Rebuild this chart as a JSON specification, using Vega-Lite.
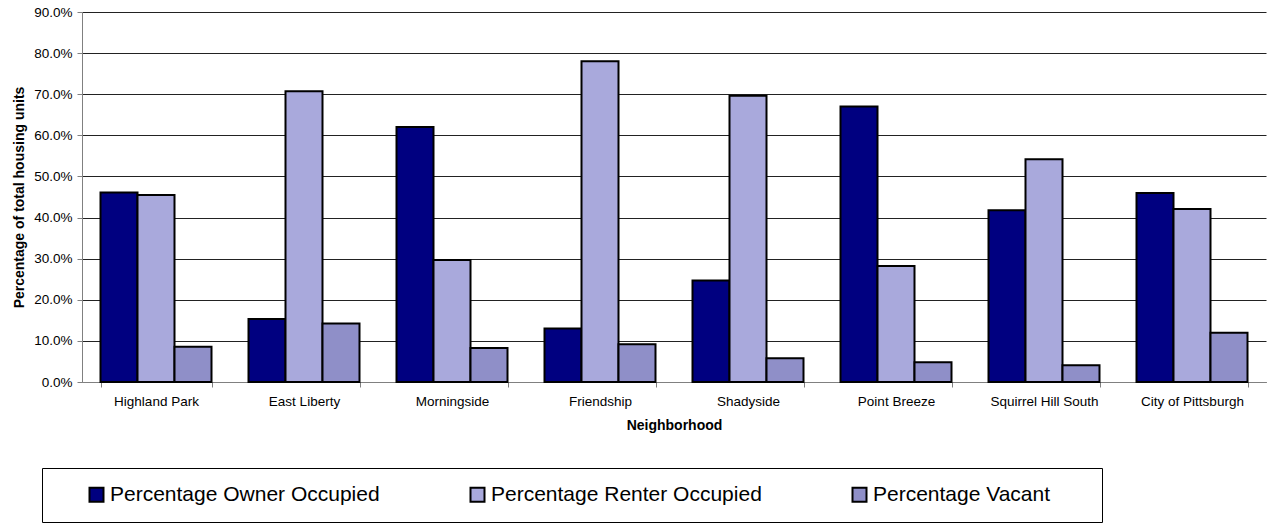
{
  "$schema": "https://vega.github.io/schema/vega-lite/v6.json",
  "width": 1184,
  "height": 370,
  "autosize": {"type": "none"},
  "padding": {"left": 82, "top": 12, "right": 4, "bottom": 143},
  "background": "white",
  "config": {"font": "Liberation Sans", "view": {"stroke": null}},
  "data": {
    "values": [
      {"neighborhood": "Highland Park", "type": "Percentage Owner Occupied", "value": 0.461},
      {"neighborhood": "Highland Park", "type": "Percentage Renter Occupied", "value": 0.455},
      {"neighborhood": "Highland Park", "type": "Percentage Vacant", "value": 0.086},
      {"neighborhood": "East Liberty", "type": "Percentage Owner Occupied", "value": 0.153},
      {"neighborhood": "East Liberty", "type": "Percentage Renter Occupied", "value": 0.707},
      {"neighborhood": "East Liberty", "type": "Percentage Vacant", "value": 0.142},
      {"neighborhood": "Morningside", "type": "Percentage Owner Occupied", "value": 0.620},
      {"neighborhood": "Morningside", "type": "Percentage Renter Occupied", "value": 0.297},
      {"neighborhood": "Morningside", "type": "Percentage Vacant", "value": 0.083},
      {"neighborhood": "Friendship", "type": "Percentage Owner Occupied", "value": 0.130},
      {"neighborhood": "Friendship", "type": "Percentage Renter Occupied", "value": 0.780},
      {"neighborhood": "Friendship", "type": "Percentage Vacant", "value": 0.092},
      {"neighborhood": "Shadyside", "type": "Percentage Owner Occupied", "value": 0.247},
      {"neighborhood": "Shadyside", "type": "Percentage Renter Occupied", "value": 0.696},
      {"neighborhood": "Shadyside", "type": "Percentage Vacant", "value": 0.058},
      {"neighborhood": "Point Breeze", "type": "Percentage Owner Occupied", "value": 0.670},
      {"neighborhood": "Point Breeze", "type": "Percentage Renter Occupied", "value": 0.282},
      {"neighborhood": "Point Breeze", "type": "Percentage Vacant", "value": 0.048},
      {"neighborhood": "Squirrel Hill South", "type": "Percentage Owner Occupied", "value": 0.418},
      {"neighborhood": "Squirrel Hill South", "type": "Percentage Renter Occupied", "value": 0.542},
      {"neighborhood": "Squirrel Hill South", "type": "Percentage Vacant", "value": 0.041},
      {"neighborhood": "City of Pittsburgh", "type": "Percentage Owner Occupied", "value": 0.460},
      {"neighborhood": "City of Pittsburgh", "type": "Percentage Renter Occupied", "value": 0.421},
      {"neighborhood": "City of Pittsburgh", "type": "Percentage Vacant", "value": 0.120}
    ]
  },
  "mark": {"type": "bar", "stroke": "black", "strokeWidth": 2, "strokeJoin": "miter"},
  "encoding": {
    "x": {
      "field": "neighborhood",
      "type": "nominal",
      "sort": null,
      "scale": {"paddingInner": 0.25, "paddingOuter": 0.125},
      "axis": {
        "title": "Neighborhood",
        "labelAngle": 0,
        "labelFontSize": 13.5,
        "labelColor": "black",
        "labelPadding": 7,
        "titleFontSize": 14,
        "titleFontWeight": "bold",
        "titleColor": "black",
        "titlePadding": 11,
        "tickBand": "extent",
        "tickSize": 5,
        "tickColor": "#808080",
        "domainColor": "#808080",
        "grid": false
      }
    },
    "xOffset": {
      "field": "type",
      "type": "nominal",
      "sort": ["Percentage Owner Occupied", "Percentage Renter Occupied", "Percentage Vacant"]
    },
    "y": {
      "field": "value",
      "type": "quantitative",
      "scale": {"domain": [0, 0.9], "nice": false},
      "axis": {
        "title": "Percentage of total housing units",
        "format": ".1%",
        "values": [0, 0.1, 0.2, 0.3, 0.4, 0.5, 0.6, 0.7, 0.8, 0.9],
        "grid": true,
        "gridColor": "#222222",
        "gridWidth": 1,
        "labelFontSize": 13.5,
        "labelColor": "black",
        "labelPadding": 5,
        "tickSize": 5,
        "tickColor": "#808080",
        "domainColor": "#808080",
        "titleFontSize": 14,
        "titleFontWeight": "bold",
        "titleColor": "black",
        "titlePadding": 7
      }
    },
    "fill": {
      "field": "type",
      "type": "nominal",
      "scale": {
        "domain": ["Percentage Owner Occupied", "Percentage Renter Occupied", "Percentage Vacant"],
        "range": ["#000080", "#A9A9DC", "#8F8FC8"]
      },
      "legend": {
        "orient": "none",
        "legendX": -40,
        "legendY": 456,
        "direction": "horizontal",
        "columns": 3,
        "title": " ",
        "titleOrient": "right",
        "titlePadding": 36,
        "titleFontSize": 20,
        "padding": 16,
        "strokeColor": "black",
        "fillColor": "white",
        "symbolType": "square",
        "symbolSize": 196,
        "symbolStrokeColor": "black",
        "symbolStrokeWidth": 2,
        "symbolOffset": 28,
        "labelOffset": 3,
        "labelFontSize": 21,
        "labelColor": "black",
        "labelLimit": 500,
        "columnPadding": 59
      }
    }
  }
}
